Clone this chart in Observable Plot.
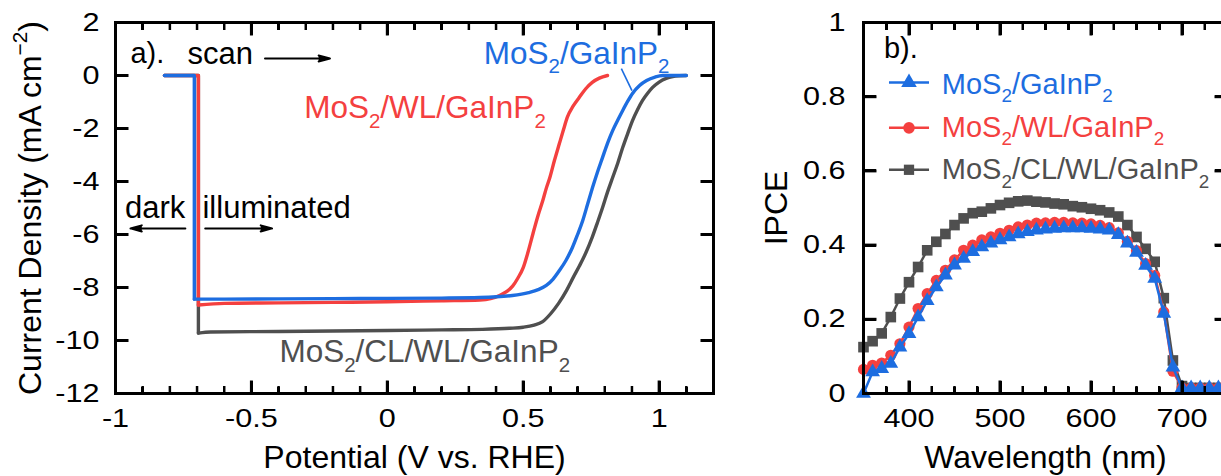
<!DOCTYPE html>
<html><head><meta charset="utf-8">
<script src="https://cdn.jsdelivr.net/npm/d3@7"></script>
<script src="https://cdn.jsdelivr.net/npm/@observablehq/plot@0.6"></script>
<style>
html,body{margin:0;padding:0;background:#fff;overflow:hidden;}
#wrap{position:relative;width:1221px;height:476px;overflow:hidden;background:#fff;}
.panel{position:absolute;top:0;height:476px;}
#a{left:0;width:760px;}
#b{left:760px;width:500px;}
.panel svg{position:absolute;left:0;top:0;max-width:none !important;}
.fr{position:absolute;box-sizing:border-box;border:3px solid #000;z-index:5;}
.tk{position:absolute;background:#000;z-index:5;}
</style></head>
<body><div id="wrap"><div id="a" class="panel"></div><div id="b" class="panel"></div></div>
<script>
// ---------- Panel a: LSV (potential V vs RHE, current density mA cm^-2) ----------
const vBare = [-0.82, -0.71, -0.71, -0.6, -0.4, -0.2, 0, 0.2, 0.34, 0.46, 0.52, 0.555, 0.585, 0.61, 0.633, 0.657, 0.681, 0.7, 0.719, 0.737, 0.755, 0.773, 0.792, 0.81, 0.829, 0.848, 0.866, 0.884, 0.902, 0.928, 0.954, 0.985, 1.013, 1.1];
const jBare = [0, 0, -8.44, -8.44, -8.43, -8.42, -8.41, -8.4, -8.38, -8.3, -8.19, -8.08, -7.92, -7.68, -7.36, -6.98, -6.49, -6.0, -5.47, -4.85, -4.23, -3.65, -3.09, -2.56, -2.08, -1.68, -1.32, -0.98, -0.68, -0.38, -0.19, -0.06, 0, 0];
const vWL = [-0.82, -0.695, -0.695, -0.6, -0.4, -0.2, 0, 0.2, 0.34, 0.38, 0.413, 0.44, 0.461, 0.48, 0.5, 0.518, 0.536, 0.554, 0.572, 0.585, 0.598, 0.615, 0.633, 0.648, 0.662, 0.684, 0.706, 0.73, 0.754, 0.78, 0.81];
const jWL = [0, 0, -8.66, -8.6, -8.58, -8.56, -8.54, -8.5, -8.47, -8.42, -8.3, -8.15, -7.95, -7.65, -7.25, -6.65, -5.96, -5.3, -4.72, -4.25, -3.85, -3.2, -2.57, -2.05, -1.58, -1.15, -0.83, -0.5, -0.26, -0.1, 0];
const vCL = [-0.82, -0.695, -0.695, -0.65, -0.4, -0.2, 0, 0.2, 0.35, 0.45, 0.5, 0.54, 0.57, 0.6, 0.63, 0.66, 0.685, 0.706, 0.73, 0.754, 0.773, 0.792, 0.81, 0.829, 0.848, 0.866, 0.884, 0.902, 0.92, 0.939, 0.957, 0.976, 1.0, 1.026, 1.05, 1.075, 1.1];
const jCL = [0, 0, -9.72, -9.68, -9.66, -9.64, -9.62, -9.6, -9.58, -9.54, -9.5, -9.42, -9.3, -9.0, -8.6, -8.1, -7.6, -7.2, -6.7, -6.1, -5.55, -4.98, -4.4, -3.85, -3.3, -2.72, -2.2, -1.7, -1.3, -0.94, -0.68, -0.45, -0.25, -0.11, -0.04, -0.01, 0];

// ---------- Panel b: IPCE ----------
const wavelength = [350, 360, 370, 380, 390, 400, 410, 420, 430, 440, 450, 460, 470, 480, 490, 500, 510, 520, 530, 540, 550, 560, 570, 580, 590, 600, 610, 620, 630, 640, 650, 660, 670, 680, 690, 700, 710, 720, 730, 740, 750];
const ipceBare = [0.0, 0.058, 0.067, 0.081, 0.125, 0.161, 0.206, 0.25, 0.287, 0.319, 0.346, 0.364, 0.382, 0.395, 0.405, 0.414, 0.422, 0.43, 0.436, 0.44, 0.443, 0.445, 0.446, 0.446, 0.446, 0.445, 0.443, 0.44, 0.428, 0.405, 0.38, 0.345, 0.31, 0.216, 0.071, 0.015, 0.015, 0.015, 0.015, 0.015, 0.015];
const ipceWL = [0.065, 0.076, 0.082, 0.103, 0.134, 0.179, 0.229, 0.269, 0.305, 0.332, 0.36, 0.386, 0.40, 0.414, 0.422, 0.432, 0.44, 0.449, 0.454, 0.459, 0.46, 0.461, 0.461, 0.46, 0.459, 0.457, 0.453, 0.447, 0.433, 0.41, 0.385, 0.35, 0.318, 0.22, 0.06, 0.015, 0.015, 0.015, 0.015, 0.015, 0.015];
const ipceCL = [0.125, 0.141, 0.162, 0.206, 0.256, 0.30, 0.341, 0.386, 0.409, 0.43, 0.454, 0.472, 0.486, 0.49, 0.499, 0.508, 0.514, 0.518, 0.52, 0.517, 0.515, 0.512, 0.51, 0.505, 0.502, 0.498, 0.494, 0.488, 0.477, 0.454, 0.422, 0.39, 0.355, 0.257, 0.089, 0.02, 0.015, 0.015, 0.015, 0.015, 0.015];

// ---------- ticks & labels ----------
const xTicksA = [-1, -0.5, 0, 0.5, 1];
const xMinorA = [-0.9, -0.8, -0.7, -0.6, -0.4, -0.3, -0.2, -0.1, 0.1, 0.2, 0.3, 0.4, 0.6, 0.7, 0.8, 0.9, 1.1];
const yTicksA = [2, 0, -2, -4, -6, -8, -10, -12];
const xTicksB = [400, 500, 600, 700];
const xMinorB = [375, 425, 450, 475, 525, 550, 575, 625, 650, 675, 725];
const yTicksB = [0, 0.2, 0.4, 0.6, 0.8, 1];
const seriesNames = ["MoS_2/GaInP_2", "MoS_2/WL/GaInP_2", "MoS_2/CL/WL/GaInP_2"];
const xTitleA = "Potential (V vs. RHE)";
const yTitleA = "Current Density (mA cm^{\u22122})";
const xTitleB = "Wavelength (nm)";
const yTitleB = "IPCE";

const cBlue = "#1d6de0", cRed = "#f4403f", cGray = "#4f4f4f";
const font = "'Liberation Sans', Arial, Helvetica, sans-serif";
const tbl = (xs, ys) => xs.map((x, i) => ({x, y: ys[i]}));

// frame + inward ticks as strokes (lengths converted from px to data units)
function frameTicks(xd, yd, xMaj, xMin, yMaj, pw, ph) {
  const kx = (xd[1] - xd[0]) / pw, ky = (yd[1] - yd[0]) / ph;
  const s = {stroke: "black"};
  return [
    Plot.link(xMaj, {x1: d => d, x2: d => d, y1: yd[0], y2: yd[0] + 13 * ky, strokeWidth: 3, ...s}),
    Plot.link(xMaj, {x1: d => d, x2: d => d, y1: yd[1], y2: yd[1] - 13 * ky, strokeWidth: 3, ...s}),
    Plot.link(xMin, {x1: d => d, x2: d => d, y1: yd[0], y2: yd[0] + 7.5 * ky, strokeWidth: 2.5, ...s}),
    Plot.link(xMin, {x1: d => d, x2: d => d, y1: yd[1], y2: yd[1] - 7.5 * ky, strokeWidth: 2.5, ...s}),
    Plot.link(yMaj, {y1: d => d, y2: d => d, x1: xd[0], x2: xd[0] + 13 * kx, strokeWidth: 3, ...s}),
    Plot.link(yMaj, {y1: d => d, y2: d => d, x1: xd[1], x2: xd[1] - 13 * kx, strokeWidth: 3, ...s}),
    Plot.frame({stroke: "black", strokeWidth: 3})
  ];
}

// rich text: _x subscript, ^{..} superscript
function rich(svg) {
  d3.select(svg).selectAll("text").each(function () {
    const t = this;
    if (t.querySelector("tspan")) return;
    const s = t.textContent;
    if (!/[_^]/.test(s)) return;
    const fs = parseFloat(t.getAttribute("font-size")) || parseFloat(t.parentNode.getAttribute("font-size")) || 30;
    t.textContent = "";
    const re = /_(\{[^}]*\}|.)|\^(\{[^}]*\}|.)|([^_^]+)/g;
    let m, shift = 0;
    while ((m = re.exec(s))) {
      const ts = document.createElementNS("http://www.w3.org/2000/svg", "tspan");
      if (m[3] !== undefined) {
        ts.textContent = m[3];
        if (shift) ts.setAttribute("dy", -shift);
        shift = 0;
      } else {
        const sub = m[1] !== undefined;
        const c = (sub ? m[1] : m[2]).replace(/[{}]/g, "");
        const d = sub ? 0.3 * fs : -0.42 * fs;
        ts.textContent = c;
        ts.setAttribute("font-size", 0.65 * fs);
        ts.setAttribute("dy", d - shift);
        shift = d;
      }
      t.appendChild(ts);
    }
  });
  return svg;
}
function widenTicks(svg) {
  d3.select(svg).selectAll('g[aria-label="x-axis tick label"] text, g[aria-label="y-axis tick label"] text').each(function () {
    const tr = this.getAttribute("transform") || "";
    this.setAttribute("transform", tr + " scale(1.2,1)");
  });
  return svg;
}
// frame + ticks as HTML boxes placed with the plot's own scales
function htmlFrame(el, svg, cfg) {
  const sx = svg.scale("x"), sy = svg.scale("y");
  const [x0, x1] = sx.range, [y0, y1] = sy.range; // y0 bottom, y1 top
  const L = Math.min(x0, x1), R = Math.max(x0, x1), T = Math.min(y0, y1), B = Math.max(y0, y1);
  const box = (cls, l, t, w, h) => {
    const d = document.createElement("div");
    d.className = cls;
    d.style.left = l + "px"; d.style.top = t + "px"; d.style.width = w + "px"; d.style.height = h + "px";
    el.appendChild(d);
  };
  box("fr", L - 1, T - 1, R - L + 3, B - T + 3);
  cfg.xMaj.forEach(v => { const x = sx.apply(v); box("tk", x - 1, B - 12, 3, 13); box("tk", x - 1, T, 3, 13); });
  cfg.xMin.forEach(v => { const x = sx.apply(v); box("tk", x - 0.75, B - 6.5, 2.5, 7.5); box("tk", x - 0.75, T, 2.5, 7.5); });
  cfg.yMaj.forEach(v => { const y = sy.apply(v); box("tk", L, y - 1, 13, 3); box("tk", R - 12, y - 1, 13, 3); });
}

const HA = 476, mt = 22, mb = 83, ph = HA - mt - mb;
const arrowStyle = {stroke: "black", fill: "black", strokeWidth: 2, headLength: 8.8, headAngle: 30};
const txt = (s, o) => Plot.text([s], {text: d => d, textAnchor: "start", lineAnchor: "bottom", ...o});

function panel(el, cfg) {
  const base = {
    width: cfg.W, height: HA,
    marginLeft: cfg.ml, marginRight: cfg.mr, marginTop: mt, marginBottom: mb
  };
  const pw = cfg.W - cfg.ml - cfg.mr;
  const dataSvg = Plot.plot({
    ...base,
    x: {domain: cfg.xd, axis: null}, y: {domain: cfg.yd, axis: null},
    style: {fontFamily: font, fontSize: "26px", color: "black", background: "white", overflow: "visible", maxWidth: "none"},
    marks: cfg.marks
  });
  el.appendChild(rich(dataSvg));
  const axSvg = Plot.plot({
    ...base,
    x: {domain: cfg.xd}, y: {domain: cfg.yd},
    style: {fontFamily: font, fontSize: "26px", color: "black", background: "none", overflow: "visible", maxWidth: "none"},
    marks: [
      ...frameTicks(cfg.xd, cfg.yd, cfg.xMaj, cfg.xMin, cfg.yMaj, pw, ph),
      Plot.axisX({ticks: cfg.xMaj, tickSize: 0, tickPadding: 15, tickFormat: d => String(d), fontSize: 25.5, label: null}),
      Plot.axisY({ticks: cfg.yMaj, tickSize: 0, tickPadding: cfg.yPad, tickFormat: d => String(d), fontSize: 25.5, label: null})
    ]
  });
  el.appendChild(widenTicks(axSvg));
  htmlFrame(el, axSvg, cfg);
}

// ---------- Panel a ----------
const lineA = (v, j, c) => [
  Plot.line(tbl(v, j).slice(0, 3), {x: "x", y: "y", stroke: c, strokeWidth: 3.4}),
  Plot.line(tbl(v, j).slice(2), {x: "x", y: "y", stroke: c, strokeWidth: 3.4, curve: "monotone-x"})
];
panel(document.getElementById("a"), {
  W: 760, ml: 115, mr: 47, xd: [-1, 1.2], yd: [-12, 2],
  xMaj: xTicksA, xMin: xMinorA, yMaj: yTicksA, yPad: 16,
  marks: [
    ...lineA(vCL, jCL, cGray),
    ...lineA(vWL, jWL, cRed),
    ...lineA(vBare, jBare, cBlue),
    Plot.text([xTitleA], {frameAnchor: "bottom", textAnchor: "middle", lineAnchor: "bottom", dy: 74, text: d => d, fontSize: 32}),
    Plot.text([yTitleA], {frameAnchor: "left", textAnchor: "middle", lineAnchor: "middle", rotate: -90, dx: -85, text: d => d, fontSize: 32}),
    txt("a).", {x: -0.945, y: 0.49, fontSize: 29}),
    txt("scan", {x: -0.735, y: 0.45, fontSize: 31}),
    Plot.arrow([0], {x1: -0.45, x2: -0.211, y1: 0.64, y2: 0.64, ...arrowStyle}),
    txt("dark", {x: -0.965, y: -5.36, fontSize: 31}),
    txt("illuminated", {x: -0.68, y: -5.36, fontSize: 31}),
    Plot.arrow([0], {x1: -0.743, x2: -0.945, y1: -5.77, y2: -5.77, ...arrowStyle}),
    Plot.arrow([0], {x1: -0.67, x2: -0.424, y1: -5.77, y2: -5.77, ...arrowStyle}),
    txt(seriesNames[1], {x: -0.306, y: -1.62, fontSize: 31.5, fill: cRed}),
    txt(seriesNames[0], {x: 0.355, y: 0.45, fontSize: 31.5, fill: cBlue}),
    Plot.link([0], {x1: 0.861, y1: 0.26, x2: 0.9, y2: -0.57, stroke: cBlue, strokeWidth: 1.6}),
    txt(seriesNames[2], {x: -0.397, y: -10.83, fontSize: 31.5, fill: cGray})
  ]
});

// ---------- Panel b ----------
const series = [
  {v: ipceCL, c: cGray, sym: "square", r: 6.0},
  {v: ipceWL, c: cRed, sym: "circle", r: 5.6},
  {v: ipceBare, c: cBlue, sym: "triangle", r: 5.5}
];
const legend = [
  {name: seriesNames[0], c: cBlue, sym: "triangle", r: 5.8, y: 0.838, ty: 0.808},
  {name: seriesNames[1], c: cRed, sym: "circle", r: 5.8, y: 0.716, ty: 0.692},
  {name: seriesNames[2], c: cGray, sym: "square", r: 5.8, y: 0.603, ty: 0.578}
];
panel(document.getElementById("b"), {
  W: 500, ml: 103, mr: 33, xd: [350, 750], yd: [0, 1],
  xMaj: xTicksB, xMin: xMinorB, yMaj: yTicksB, yPad: 18,
  marks: [
    ...series.flatMap(s => [
      Plot.line(tbl(wavelength, s.v), {x: "x", y: "y", stroke: s.c, strokeWidth: 2.5}),
      Plot.dot(tbl(wavelength, s.v), {x: "x", y: "y", symbol: s.sym, fill: s.c, r: s.r, stroke: "none"})
    ]),
    Plot.text([xTitleB], {frameAnchor: "bottom", textAnchor: "middle", lineAnchor: "bottom", dy: 74, text: d => d, fontSize: 32}),
    Plot.text([yTitleB], {frameAnchor: "left", textAnchor: "middle", lineAnchor: "middle", rotate: -90, dx: -87, text: d => d, fontSize: 32}),
    txt("b).", {x: 372.5, y: 0.905, fontSize: 29}),
    ...legend.flatMap(l => [
      Plot.link([0], {x1: 378, x2: 422, y1: l.y, y2: l.y, stroke: l.c, strokeWidth: 2.5}),
      Plot.dot([0], {x: 400, y: l.y, symbol: l.sym, fill: l.c, r: l.r, stroke: "none"}),
      txt(l.name, {x: 436, y: l.ty, fontSize: 29, fill: l.c})
    ])
  ]
});
</script>
</body></html>
